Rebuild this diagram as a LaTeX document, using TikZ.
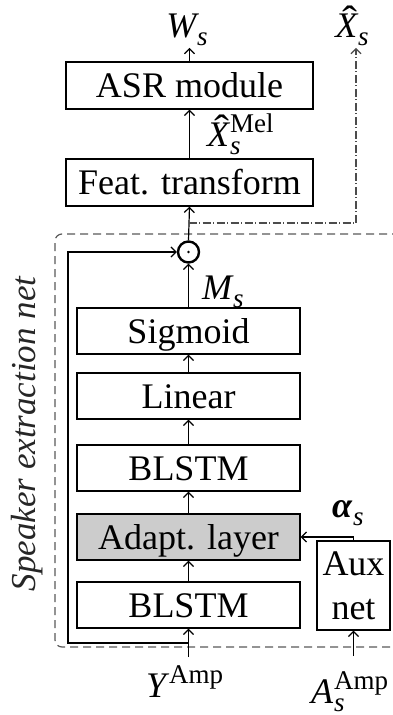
\documentclass[tikz,border=0pt]{standalone}
\usepackage{fix-cm}
\usepackage{fontspec}
\setmainfont{Liberation Serif}
\usetikzlibrary{arrows.meta,calc}

% symbols with sub- and superscripts set from the text font
\newcommand{\scrfont}[1]{{\fontsize{27}{27}\selectfont #1}}
\newcommand{\subs}[1]{\raisebox{-8pt}{\scrfont{\itshape #1}}}
\newcommand{\sups}[1]{\raisebox{14pt}{\scrfont{#1}}}
\newcommand{\subsup}[2]{\rlap{\subs{#1}}\sups{#2}}
% italic X with a circumflex hat
\newcommand{\hatX}{\rlap{\kern7pt\raisebox{4pt}{\scalebox{1.25}[1.1]{\char"02C6}}}{\itshape X}\kern1pt}

\begin{document}
\begin{tikzpicture}[x=1pt,y=-1pt,
  every node/.style={font=\fontsize{36}{44}\selectfont},
  blk/.style={draw, line width=1.4pt, minimum width=223pt, minimum height=46pt,
    inner sep=0pt, text height=24pt, text depth=0pt},
  wideblk/.style={blk, minimum width=247pt, minimum height=47pt},
  lbl/.style={inner sep=2.5pt},
  tip/.style={-{Straight Barb[length=5pt,width=10pt,line width=1.2pt]}},
  flow/.style={line width=1.2pt, tip},
  dashdot/.style={line width=1.1pt, black!70, tip,
    dash pattern=on 8pt off 2.5pt on 1pt off 2.5pt},
  netframe/.style={line width=1.2pt, black!65, dash pattern=on 8pt off 5pt,
    rounded corners=7pt}
]
\useasboundingbox (0,0) rectangle (393,715);

% speaker extraction network frame (open to the right)
\draw[netframe] (400,234) -- (55,234) -- (55,647) -- (400,647);
\node[rotate=90, font=\fontsize{35}{40}\selectfont\itshape, text=black!85] (sen)
  at (27,434) {Speaker extraction net};

% processing blocks
\node[wideblk] (asr)  at (189.5,85.5)  {ASR module};
\node[wideblk] (feat) at (189.5,182.5) {Feat. transform};
\node[blk] (sig)    at (188.5,331) {Sigmoid};
\node[blk] (lin)    at (188.5,396) {Linear};
\node[blk] (blstmb) at (188.5,468) {BLSTM};
\node[blk, fill=black!20] (adapt) at (188.5,537) {Adapt. layer};
\node[blk] (blstma) at (188.5,605) {BLSTM};
\node[draw, line width=1.4pt, minimum width=73pt, minimum height=89pt,
  inner sep=0pt, align=center] (aux) at (353.5,585.5) {Aux\\net};

% element-wise product
\node[circle, draw, line width=2.4pt, minimum size=21pt, inner sep=0pt]
  (odot) at (188.5,252) {};
\fill (odot.center) circle (1.4pt);

% signal labels
\node[lbl, anchor=base] (ws) at (187,37) {{\itshape W}\kern1pt\subs{s}};
\node[lbl, anchor=base] (xh) at (352,37) {\hatX\subs{s}};
\node[lbl, anchor=base west, inner sep=0pt] (xmel) at (207,146)
  {\hatX\subsup{s}{Mel}};
\node[lbl, anchor=base west, inner sep=0pt] (ms) at (202,299)
  {{\itshape M}\kern1pt\subs{s}};
\node[lbl, anchor=base west, inner sep=0pt] (alpha) at (332,517)
  {{\bfseries\itshape α}\kern1pt\subs{s}};
\node[lbl, anchor=base west, inner sep=0pt] (yamp) at (146,697)
  {{\itshape Y}\kern3pt\sups{Amp}};
\node[lbl, anchor=base west, inner sep=0pt] (aamp) at (311,703)
  {{\itshape A}\kern1pt\subsup{s}{Amp}};

% inputs and branch points
\coordinate (yin) at (188.5,657);
\coordinate (ain) at (353.5,656);
\coordinate (fb) at (188.5,643);
\coordinate (br) at (188.5,223);

% main signal path
\draw[flow] (yin) -- (blstma.south);
\draw[flow] (blstma.north) -- (adapt.south);
\draw[flow] (adapt.north) -- (blstmb.south);
\draw[flow] (blstmb.north) -- (lin.south);
\draw[flow] (lin.north) -- (sig.south);
\draw[flow] (sig.north) -- (odot.south);
\draw[flow] (odot.north) -- (feat.south);
\draw[flow] (feat.north) -- (asr.south);
\draw[flow] (asr.north) -- (asr.north |- ws.south);

% skip connection of the mixture into the product
\draw[flow] (fb) -- ++(-120.5,0) |- (odot.west);

% auxiliary network
\draw[flow] (ain) -- (aux.south);
\draw[flow] (aux.north) |- (adapt.east);

% enhanced feature output
\draw[dashdot] (br) -| ([xshift=4pt]xh.south);
\end{tikzpicture}
\end{document}
